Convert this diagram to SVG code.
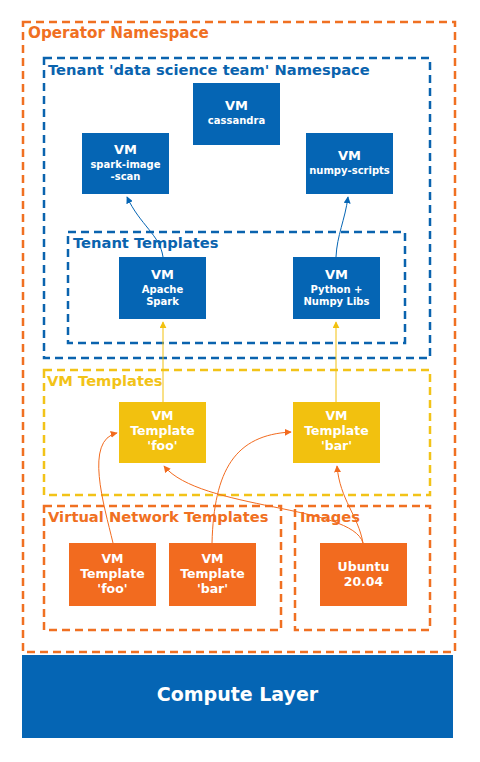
<svg xmlns="http://www.w3.org/2000/svg" width="480" height="762" viewBox="0 0 480 762">
<defs>
<style>
.t{font-family:"DejaVu Sans","Liberation Sans",sans-serif;font-weight:bold}
.ti{font-size:14.7px}
.box{fill:none;stroke-width:2.5;stroke-dasharray:8 5}
.ob{stroke:#F07022}.bb{stroke:#0A63AE}.yb{stroke:#F2C318}
.blue{fill:#0565B4}.orange{fill:#F26B1F}.yellow{fill:#F2C10F}
.nt{fill:#fff;text-anchor:middle}
.h{font-size:13px}.s{font-size:10px}.m{font-size:12.5px}
.lb{fill:none;stroke:#0565B4;stroke-width:1}
.ly{fill:none;stroke:#F2C10F;stroke-width:1}
.lo{fill:none;stroke:#F26B1F;stroke-width:1}
</style>
<marker id="ab" viewBox="0 0 10 10" refX="9" refY="5" markerWidth="7" markerHeight="7" orient="auto"><path d="M0,0L10,5L0,10z" fill="#0565B4"/></marker>
<marker id="ay" viewBox="0 0 10 10" refX="9" refY="5" markerWidth="7" markerHeight="7" orient="auto"><path d="M0,0L10,5L0,10z" fill="#F2C10F"/></marker>
<marker id="ao" viewBox="0 0 10 10" refX="9" refY="5" markerWidth="7" markerHeight="7" orient="auto"><path d="M0,0L10,5L0,10z" fill="#F26B1F"/></marker>
</defs>
<rect width="480" height="762" fill="#fff"/>

<g id="operator-namespace">
<rect class="box ob" x="23" y="22" width="432" height="630"/>
<text class="t" x="28" y="38" font-size="15.2" fill="#F07022">Operator Namespace</text>
</g>
<g id="tenant-namespace">
<rect class="box bb" x="44" y="58" width="386" height="300"/>
<text class="t ti" x="48" y="75" fill="#0A63AE">Tenant 'data science team' Namespace</text>
</g>
<g id="tenant-templates">
<rect class="box bb" x="68" y="232" width="337" height="111"/>
<text class="t ti" x="73" y="248" fill="#0A63AE">Tenant Templates</text>
</g>
<g id="vm-templates">
<rect class="box yb" x="44" y="370" width="386" height="125"/>
<text class="t ti" x="47" y="386" fill="#F2C318">VM Templates</text>
</g>
<g id="vnet-templates">
<rect class="box ob" x="44" y="506" width="237" height="124"/>
<text class="t ti" x="48" y="522" fill="#F07022">Virtual Network Templates</text>
</g>
<g id="images">
<rect class="box ob" x="295" y="506" width="135" height="124"/>
<text class="t ti" x="300" y="522" fill="#F07022">Images</text>
</g>

<g id="connectors">
<path class="lb" d="M163,257 C160,235 140,225 127,197" marker-end="url(#ab)"/>
<path class="lb" d="M336,257 C337,235 345,220 348,197" marker-end="url(#ab)"/>
<path class="ly" d="M163,402 L163,322" marker-end="url(#ay)"/>
<path class="ly" d="M336,402 L336,322" marker-end="url(#ay)"/>
<path class="lo" d="M113,543 C104,505 84,440 117,433" marker-end="url(#ao)"/>
<path class="lo" d="M212,543 C214,470 235,435 291,432" marker-end="url(#ao)"/>
<path class="lo" d="M363,543 C352,505 200,510 164,466" marker-end="url(#ao)"/>
<path class="lo" d="M363,543 C358,515 340,500 337,466" marker-end="url(#ao)"/>
</g>

<g id="vm-cassandra">
<rect class="blue" x="193" y="83" width="87" height="62"/>
<text class="t nt h" x="236.5" y="110">VM</text>
<text class="t nt s" x="236.5" y="124">cassandra</text>
</g>
<g id="vm-spark-image-scan">
<rect class="blue" x="82" y="133" width="87" height="61"/>
<text class="t nt h" x="125.5" y="154">VM</text>
<text class="t nt s" x="125.5" y="168">spark-image</text>
<text class="t nt s" x="125.5" y="180">-scan</text>
</g>
<g id="vm-numpy-scripts">
<rect class="blue" x="306" y="133" width="87" height="61"/>
<text class="t nt h" x="349.5" y="160">VM</text>
<text class="t nt s" x="349.5" y="174">numpy-scripts</text>
</g>
<g id="vm-apache-spark">
<rect class="blue" x="119" y="257" width="87" height="62"/>
<text class="t nt h" x="162.5" y="279">VM</text>
<text class="t nt s" x="162.5" y="293">Apache</text>
<text class="t nt s" x="162.5" y="305">Spark</text>
</g>
<g id="vm-python-numpy">
<rect class="blue" x="293" y="257" width="87" height="62"/>
<text class="t nt h" x="336.5" y="279">VM</text>
<text class="t nt s" x="336.5" y="293">Python +</text>
<text class="t nt s" x="336.5" y="305">Numpy Libs</text>
</g>
<g id="vm-template-foo">
<rect class="yellow" x="119" y="402" width="87" height="61"/>
<text class="t nt m" x="162.5" y="420">VM</text>
<text class="t nt m" x="162.5" y="435">Template</text>
<text class="t nt m" x="162.5" y="450">'foo'</text>
</g>
<g id="vm-template-bar">
<rect class="yellow" x="293" y="402" width="87" height="61"/>
<text class="t nt m" x="336.5" y="420">VM</text>
<text class="t nt m" x="336.5" y="435">Template</text>
<text class="t nt m" x="336.5" y="450">'bar'</text>
</g>
<g id="vnet-template-foo">
<rect class="orange" x="69" y="543" width="87" height="63"/>
<text class="t nt m" x="112.5" y="563">VM</text>
<text class="t nt m" x="112.5" y="578">Template</text>
<text class="t nt m" x="112.5" y="593">'foo'</text>
</g>
<g id="vnet-template-bar">
<rect class="orange" x="169" y="543" width="87" height="63"/>
<text class="t nt m" x="212.5" y="563">VM</text>
<text class="t nt m" x="212.5" y="578">Template</text>
<text class="t nt m" x="212.5" y="593">'bar'</text>
</g>
<g id="image-ubuntu">
<rect class="orange" x="320" y="543" width="87" height="63"/>
<text class="t nt m" x="363.5" y="571">Ubuntu</text>
<text class="t nt m" x="363.5" y="586">20.04</text>
</g>
<g id="compute-layer">
<rect class="blue" x="22" y="655" width="431" height="83"/>
<text class="t nt" x="237.5" y="701" font-size="19">Compute Layer</text>
</g>
</svg>
